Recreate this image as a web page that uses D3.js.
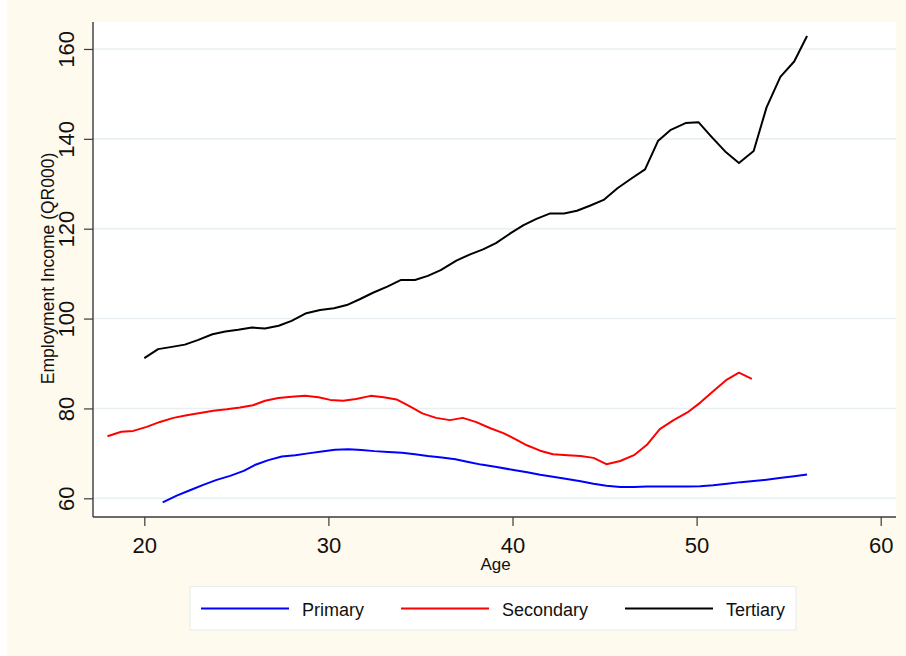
<!DOCTYPE html>
<html>
<head>
<meta charset="utf-8">
<script src="https://cdn.jsdelivr.net/npm/d3@7/dist/d3.min.js"></script>
<style>
  html, body { margin: 0; padding: 0; background: #ffffff; }
  svg { display: block; }
  text { font-family: "Liberation Sans", Arial, Helvetica, sans-serif; fill: #111; }
</style>
</head>
<body>
<svg id="chart" width="906" height="656"></svg>
<script>
// ---- Data ----
const seriesNames = ["Primary", "Secondary", "Tertiary"];
const seriesColors = ["#0000ff", "#ff0000", "#000000"];

const primaryAge = [21.0, 21.76, 22.48, 23.2, 23.93, 24.66, 25.4, 26.0, 26.74, 27.47, 28.2, 28.9, 29.64, 30.36, 31.1, 31.8, 32.5, 33.26, 34.0, 34.7, 35.4, 36.16, 36.9, 37.6, 38.3, 39.06, 40.06, 40.8, 41.5, 42.2, 42.96, 43.7, 44.4, 45.1, 45.85, 46.6, 47.3, 48.0, 48.75, 49.5, 50.2, 50.9, 51.65, 52.4, 53.1, 53.8, 54.5, 55.3, 56.0];
const primaryIncome = [59.1, 60.6, 61.8, 63.0, 64.1, 65.0, 66.1, 67.4, 68.5, 69.3, 69.6, 70.0, 70.4, 70.8, 70.9, 70.75, 70.5, 70.3, 70.15, 69.8, 69.4, 69.1, 68.7, 68.1, 67.5, 67.0, 66.3, 65.8, 65.25, 64.8, 64.3, 63.8, 63.25, 62.8, 62.5, 62.5, 62.6, 62.65, 62.65, 62.65, 62.7, 62.9, 63.25, 63.6, 63.85, 64.15, 64.5, 64.9, 65.3];

const secondaryAge = [18.0, 18.75, 19.4, 20.13, 20.85, 21.58, 22.3, 23.03, 23.75, 24.48, 25.2, 25.9, 26.56, 27.28, 28.0, 28.73, 29.46, 30.1, 30.8, 31.5, 32.3, 33.0, 33.7, 34.4, 35.1, 35.85, 36.6, 37.3, 38.0, 38.8, 39.5, 40.1, 40.78, 41.5, 42.2, 43.0, 43.7, 44.4, 45.1, 45.85, 46.6, 47.3, 48.0, 48.75, 49.5, 50.2, 50.9, 51.6, 52.3, 53.0];
const secondaryIncome = [73.8, 74.8, 75.0, 75.9, 77.0, 77.9, 78.5, 79.0, 79.5, 79.8, 80.2, 80.7, 81.7, 82.3, 82.6, 82.8, 82.5, 81.9, 81.7, 82.1, 82.8, 82.5, 82.0, 80.5, 78.9, 77.9, 77.4, 77.9, 77.0, 75.6, 74.5, 73.3, 71.8, 70.6, 69.8, 69.6, 69.4, 69.0, 67.6, 68.3, 69.6, 71.9, 75.4, 77.4, 79.1, 81.3, 83.8, 86.3, 87.95, 86.6];

const tertiaryAge = [20.0, 20.75, 21.5, 22.2, 22.9, 23.7, 24.4, 25.1, 25.85, 26.55, 27.3, 28.0, 28.8, 29.55, 30.3, 31.0, 31.7, 32.45, 33.2, 33.95, 34.7, 35.4, 36.1, 36.95, 37.7, 38.4, 39.1, 39.9, 40.6, 41.3, 42.05, 42.8, 43.5, 44.2, 44.95, 45.7, 46.4, 47.2, 47.9, 48.6, 49.4, 50.1, 50.8, 51.6, 52.3, 53.1, 53.8, 54.55, 55.3, 56.0];
const tertiaryIncome = [91.2, 93.2, 93.7, 94.2, 95.2, 96.5, 97.1, 97.5, 98.0, 97.8, 98.4, 99.5, 101.2, 101.9, 102.3, 103.0, 104.3, 105.8, 107.1, 108.6, 108.6, 109.5, 110.8, 112.9, 114.3, 115.4, 116.8, 119.0, 120.8, 122.2, 123.4, 123.4, 124.0, 125.1, 126.4, 129.0, 131.0, 133.2, 139.5, 142.0, 143.5, 143.7, 140.5, 137.0, 134.6, 137.3, 147.0, 153.8, 157.2, 162.9];

const xTicks = [20, 30, 40, 50, 60];
const yTicks = [60, 80, 100, 120, 140, 160];
const xTitle = "Age";
const yTitle = "Employment Income (QR000)";

// ---- Build series table ----
const series = [
  { name: seriesNames[0], color: seriesColors[0], pts: primaryAge.map((a, i) => [a, primaryIncome[i]]) },
  { name: seriesNames[1], color: seriesColors[1], pts: secondaryAge.map((a, i) => [a, secondaryIncome[i]]) },
  { name: seriesNames[2], color: seriesColors[2], pts: tertiaryAge.map((a, i) => [a, tertiaryIncome[i]]) }
];

// ---- Layout ----
const W = 906, H = 656;
const plot = { left: 93, right: 896, top: 22, bottom: 517 };

const svg = d3.select("#chart");

// outer background
svg.append("rect").attr("x", 0).attr("y", 0).attr("width", W).attr("height", H).attr("fill", "#ffffff");
svg.append("rect").attr("x", 7).attr("y", 0).attr("width", W - 7).attr("height", H).attr("fill", "#fffaee");

// plot region
svg.append("rect")
  .attr("x", plot.left).attr("y", plot.top)
  .attr("width", plot.right - plot.left).attr("height", plot.bottom - plot.top)
  .attr("fill", "#ffffff");

const x = d3.scaleLinear().domain([17.213, 60.831]).range([plot.left, plot.right]);
const y = d3.scaleLinear().domain([55.84, 166.0]).range([plot.bottom, plot.top]);

// gridlines
svg.append("g")
  .selectAll("line")
  .data(yTicks)
  .join("line")
  .attr("x1", plot.left).attr("x2", plot.right)
  .attr("y1", d => y(d)).attr("y2", d => y(d))
  .attr("stroke", "#e9f0f3").attr("stroke-width", 1.6);

// axes
const xAxis = d3.axisBottom(x).tickValues(xTicks).tickSize(9).tickPadding(5).tickFormat(d3.format("d"));
const yAxis = d3.axisLeft(y).tickValues(yTicks).tickSize(9).tickFormat(d3.format("d"));

const gx = svg.append("g").attr("transform", `translate(0,${plot.bottom})`).call(xAxis);
gx.select(".domain").attr("d", `M${plot.left},0H${plot.right}`).attr("stroke", "#3a3a3a").attr("stroke-width", 1.4);
gx.selectAll(".tick line").attr("stroke", "#3a3a3a").attr("stroke-width", 1.2);
gx.selectAll(".tick text")
  .attr("font-size", 22).attr("fill", "#111")
  .attr("font-family", "Liberation Sans, Arial, sans-serif")
  .attr("dy", null).attr("y", 36);

const gy = svg.append("g").attr("transform", `translate(${plot.left},0)`).call(yAxis);
gy.select(".domain").attr("d", `M0,${plot.top}V${plot.bottom}`).attr("stroke", "#3a3a3a").attr("stroke-width", 1.4);
gy.selectAll(".tick line").attr("stroke", "#3a3a3a").attr("stroke-width", 1.2);
gy.selectAll(".tick text")
  .attr("font-size", 22).attr("fill", "#111")
  .attr("font-family", "Liberation Sans, Arial, sans-serif")
  .attr("x", null).attr("dy", null)
  .attr("text-anchor", "middle")
  .attr("transform", "translate(-19,0) rotate(-90)");

// lines
const line = d3.line().x(d => x(d[0])).y(d => y(d[1]));
svg.append("g")
  .selectAll("path")
  .data(series)
  .join("path")
  .attr("d", d => line(d.pts))
  .attr("fill", "none")
  .attr("stroke", d => d.color)
  .attr("stroke-width", 2)
  .attr("stroke-linejoin", "round");

// axis titles
svg.append("text")
  .attr("x", (plot.left + plot.right) / 2 + 1).attr("y", 570)
  .attr("text-anchor", "middle").attr("font-size", 17)
  .text(xTitle);

svg.append("text")
  .attr("transform", `translate(54,${(plot.top + plot.bottom) / 2 - 1}) rotate(-90)`)
  .attr("text-anchor", "middle").attr("font-size", 17.5)
  .text(yTitle);

// legend
const legend = svg.append("g");
legend.append("rect")
  .attr("x", 190).attr("y", 586.5).attr("width", 606).attr("height", 43.5)
  .attr("fill", "#ffffff").attr("stroke", "#e8eef0").attr("stroke-width", 1.2);

const legendLineX = [201, 401, 625];
const legendTextX = [302, 502, 726];
const legendItems = legend.selectAll("g.item")
  .data(series)
  .join("g").attr("class", "item");
legendItems.append("line")
  .attr("x1", (d, i) => legendLineX[i]).attr("x2", (d, i) => legendLineX[i] + 88)
  .attr("y1", 608.5).attr("y2", 608.5)
  .attr("stroke", d => d.color).attr("stroke-width", 2);
legendItems.append("text")
  .attr("x", (d, i) => legendTextX[i]).attr("y", 615.5)
  .attr("font-size", 18)
  .text(d => d.name);
</script>
</body>
</html>
